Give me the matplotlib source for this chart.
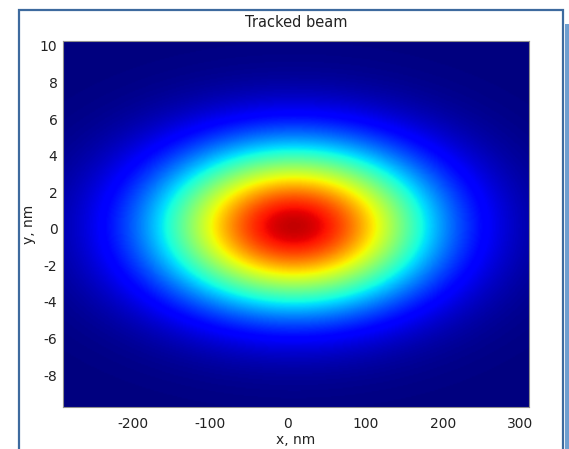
import numpy as np
import matplotlib
matplotlib.use("Agg")
import matplotlib.pyplot as plt
from matplotlib.patches import Rectangle

plt.rcParams['font.family'] = ['DejaVu Sans']
plt.rcParams['axes.unicode_minus'] = False

# ---- values ----
title = "Tracked beam"
x_label = "x, nm"
y_label = "y, nm"
x_limits = [-290, 311]
y_limits = [-9.75, 10.27]
x_ticks = [-200, -100, 0, 100, 200, 300]
y_ticks = [-8, -6, -4, -2, 0, 2, 4, 6, 8, 10]
beam_centre = [8.0, 0.15]          # nm (x, y)
beam_sigma = [122.0, 3.05]         # rms sizes (x, y)
peak_fraction = 0.94               # colour of the core relative to colour-scale top

# ---- density grid ----
xs = np.linspace(x_limits[0], x_limits[1], 400)
ys = np.linspace(y_limits[0], y_limits[1], 300)
X, Y = np.meshgrid(xs, ys)
rho2 = ((X - beam_centre[0]) / beam_sigma[0]) ** 2 + ((Y - beam_centre[1]) / beam_sigma[1]) ** 2
Z = np.exp(-0.5 * rho2)

W, H = 569, 449
fig = plt.figure(figsize=(W / 100, H / 100), dpi=100)
fig.patch.set_facecolor('white')

# outer frame like the source screenshot
fig.add_artist(Rectangle((18.5 / W, -0.01), (563 - 18.5) / W, (H - 9.5) / H + 0.01,
                         transform=fig.transFigure, facecolor='white',
                         edgecolor='#3d6a9e', linewidth=1.6, zorder=0))
fig.add_artist(Rectangle((565 / W, 0), 4 / W, (H - 24) / H,
                         transform=fig.transFigure, facecolor='#6f9fd0',
                         edgecolor='none', zorder=0))

ax = fig.add_axes([63 / W, (H - 407) / H, (529 - 63) / W, (407 - 41) / H])
ax.imshow(Z, extent=[x_limits[0], x_limits[1], y_limits[0], y_limits[1]],
          origin='lower', aspect='auto', cmap='jet', vmin=0, vmax=1 / peak_fraction,
          interpolation='bilinear')
ax.set_xlim(x_limits)
ax.set_ylim(y_limits)
ax.set_xticks(x_ticks)
ax.set_yticks(y_ticks)
ax.tick_params(length=0, labelsize=10, colors='#222222')
ax.tick_params(axis='x', pad=7)
ax.tick_params(axis='y', pad=4)
for s in ax.spines.values():
    s.set_color('#909090')
    s.set_linewidth(0.8)
ax.set_title(title, fontsize=10.5, pad=10, color='#222222')
ax.set_xlabel(x_label, fontsize=10, labelpad=2, color='#222222')
ax.set_ylabel(y_label, fontsize=10, labelpad=3, color='#222222')

fig.savefig("out.png", dpi=100)
